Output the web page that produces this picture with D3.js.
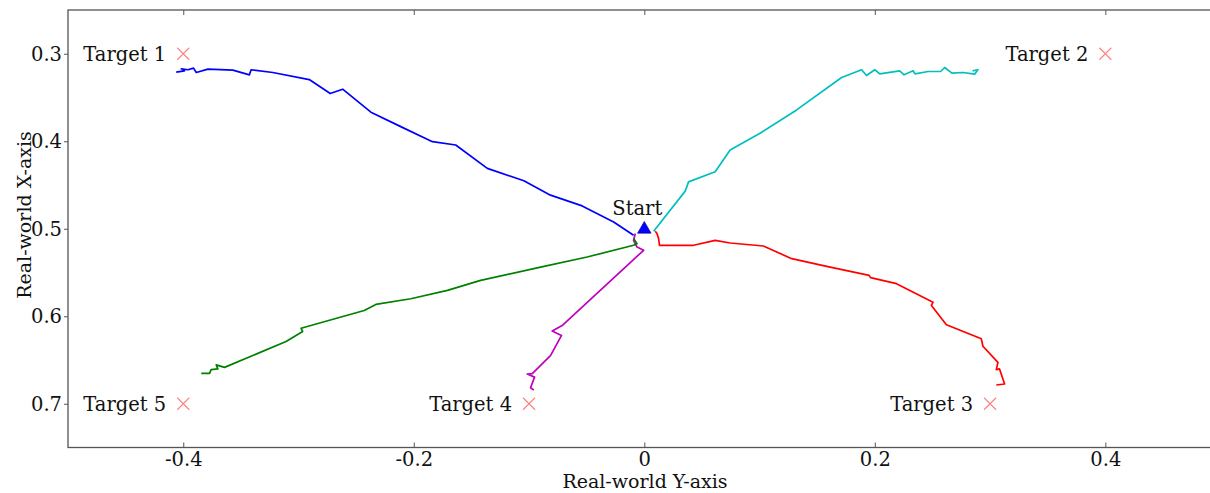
<!DOCTYPE html>
<html>
<head>
<meta charset="utf-8">
<script src="https://cdn.jsdelivr.net/npm/d3@7"></script>
<style>
  body { margin: 0; background: #fff; }
  text { font-family: "DejaVu Serif", serif; fill: #111; }
</style>
</head>
<body>
<div class="plot"></div>
<script>
/** trajectory data: [real-world Y, real-world X] */
const path1 = [[-0.0093,0.5074],[-0.0266,0.4922],[-0.0539,0.4739],[-0.0814,0.4616],[-0.1045,0.4452],
  [-0.1362,0.4310],[-0.1636,0.4043],[-0.1838,0.4005],[-0.2113,0.3833],[-0.2372,0.3668],[-0.2617,0.3405],
  [-0.2725,0.3455],[-0.2907,0.3295],[-0.3223,0.3214],[-0.3411,0.3183],[-0.3426,0.3241],[-0.3570,0.3187],
  [-0.3786,0.3175],[-0.3887,0.3214],[-0.3911,0.3164],[-0.3959,0.3183],[-0.4017,0.3172],[-0.3990,0.3195],[-0.4061,0.3210]];
const path2 = [[0.0081,0.5029],[0.0355,0.4570],[0.0384,0.4464],[0.0615,0.4349],[0.0745,0.4100],[0.1004,0.3909],
  [0.1322,0.3642],[0.1712,0.3272],[0.1885,0.3183],[0.1928,0.3249],[0.2000,0.3183],[0.2043,0.3229],[0.2216,0.3195],
  [0.2254,0.3241],[0.2332,0.3195],[0.2349,0.3229],[0.2462,0.3203],[0.2571,0.3203],[0.2606,0.3157],[0.2669,0.3221],
  [0.2765,0.3214],[0.2866,0.3233],[0.2894,0.3183],[0.2848,0.3195]];
const path3 = [[0.0095,0.5029],[0.0110,0.5055],[0.0124,0.5112],[0.0132,0.5189],[0.0427,0.5189],[0.0615,0.5132],
  [0.0745,0.5163],[0.1033,0.5197],[0.1279,0.5342],[0.1582,0.5430],[0.1951,0.5533],[0.1963,0.5559],[0.2188,0.5628],
  [0.2505,0.5839],[0.2491,0.5877],[0.2621,0.6098],[0.2924,0.6258],[0.2938,0.6343],[0.3068,0.6527],[0.3054,0.6610],
  [0.3082,0.6602],[0.3126,0.6774],[0.3054,0.6786]];
const path4 = [[-0.0078,0.5055],[-0.0093,0.5132],[-0.0063,0.5209],[-0.0006,0.5246],[-0.0713,0.6106],[-0.0799,0.6169],
  [-0.0719,0.6221],[-0.0814,0.6450],[-0.0972,0.6656],[-0.1016,0.6660],[-0.0952,0.6696],[-0.0987,0.6817],[-0.0958,0.6845]];
const path5 = [[-0.0093,0.5112],[-0.0063,0.5170],[-0.0093,0.5189],[-0.0496,0.5323],[-0.0900,0.5438],[-0.1420,0.5590],
  [-0.1708,0.5705],[-0.2026,0.5800],[-0.2329,0.5865],[-0.2430,0.5934],[-0.2978,0.6137],[-0.2964,0.6175],
  [-0.3108,0.6289],[-0.3642,0.6584],[-0.3714,0.6556],[-0.3700,0.6602],[-0.3758,0.6610],[-0.3772,0.6653],[-0.3844,0.6653]];

const pathColors = ['#0000ff', '#00bfbf', '#ff0000', '#bf00bf', '#008000'];

const targetNames = ['Target 1', 'Target 2', 'Target 3', 'Target 4', 'Target 5'];
const targetY = [-0.4, 0.4, 0.3, -0.1, -0.4];
const targetX = [0.3, 0.3, 0.7, 0.7, 0.7];
const startPoint = [0, 0.5];

const xTicks = [-0.4, -0.2, 0, 0.2, 0.4];
const xTickLabels = ['-0.4', '-0.2', '0', '0.2', '0.4'];
const yTicks = [0.3, 0.4, 0.5, 0.6, 0.7];
const yTickLabels = ['0.3', '0.4', '0.5', '0.6', '0.7'];

/** canvas */
let width = 1210, height = 493;
let svg = d3.select('.plot').append('svg')
    .attr('width', width)
    .attr('height', height);

let x = d3.scaleLinear().domain([-0.5, 0.5]).range([68, 1220.6]);
let y = d3.scaleLinear().domain([0.25, 0.75]).range([10, 447.5]);

svg.append('clipPath').attr('id', 'clip')
    .append('rect')
    .attr('x', x(-0.5)).attr('y', y(0.25))
    .attr('width', x(0.5) - x(-0.5)).attr('height', y(0.75) - y(0.25));

/** axes */
let xBottom = svg.append('g')
    .attr('transform', `translate(0,${y(0.75)})`)
    .call(d3.axisBottom(x).tickValues(xTicks).tickSizeInner(-5).tickSizeOuter(0)
        .tickFormat((d, i) => xTickLabels[i]));
xBottom.selectAll('text').attr('dy', null).attr('y', 18).style('font-size', '19.5px');

let xTop = svg.append('g')
    .attr('transform', `translate(0,${y(0.25)})`)
    .call(d3.axisTop(x).tickValues(xTicks).tickSizeInner(-5).tickSizeOuter(0).tickFormat(''));

let yLeft = svg.append('g')
    .attr('transform', `translate(${x(-0.5)},0)`)
    .call(d3.axisLeft(y).tickValues(yTicks).tickSizeInner(4).tickSizeOuter(0)
        .tickFormat((d, i) => yTickLabels[i]));
yLeft.selectAll('text').attr('x', -6).style('font-size', '19.5px');

svg.selectAll('.domain').remove();
svg.selectAll('.tick line').attr('stroke', '#555');
svg.selectAll('.tick text').attr('fill', '#111').style('font-family', '"DejaVu Serif", serif');

// frame
svg.append('rect')
    .attr('x', x(-0.5)).attr('y', y(0.25))
    .attr('width', x(0.5) - x(-0.5)).attr('height', y(0.75) - y(0.25))
    .attr('fill', 'none')
    .attr('stroke', '#555')
    .attr('stroke-width', 1.3);

/** trajectories */
let lineGen = d3.line().x(d => x(d[0])).y(d => y(d[1]));
let plotArea = svg.append('g').attr('clip-path', 'url(#clip)');

plotArea.selectAll('.traj')
    .data([path1, path2, path3, path4, path5])
    .enter()
    .append('path')
    .attr('class', 'traj')
    .attr('d', lineGen)
    .attr('fill', 'none')
    .attr('stroke', (d, i) => pathColors[i])
    .attr('stroke-width', 1.7)
    .attr('stroke-linejoin', 'round');

/** targets */
let targets = targetNames.map((n, i) => ({name: n, yw: targetY[i], xw: targetX[i]}));
let tg = plotArea.selectAll('.target')
    .data(targets)
    .enter()
    .append('g')
    .attr('class', 'target')
    .attr('transform', d => `translate(${x(d.yw)},${y(d.xw)})`);

tg.append('path')
    .attr('d', 'M-6,-6L6,6M-6,6L6,-6')
    .attr('stroke', '#ff8080')
    .attr('stroke-width', 1.1);

tg.append('text')
    .attr('x', -17)
    .attr('dy', '0.36em')
    .attr('text-anchor', 'end')
    .style('font-size', '19.5px')
    .text(d => d.name);

/** start */
plotArea.append('path')
    .attr('d', d3.symbol().type(d3.symbolTriangle).size(80))
    .attr('transform', `translate(${x(startPoint[0])},${y(startPoint[1]) + 0.5})`)
    .attr('fill', '#0000ff')
    .attr('stroke', '#000080')
    .attr('stroke-width', 0.6);

plotArea.append('text')
    .attr('x', x(startPoint[0]) - 7)
    .attr('y', y(startPoint[1]) - 14)
    .attr('text-anchor', 'middle')
    .style('font-size', '19.5px')
    .text('Start');

/** axis labels */
svg.append('text')
    .attr('x', 645)
    .attr('y', 488)
    .attr('text-anchor', 'middle')
    .style('font-size', '19px')
    .text('Real-world Y-axis');

svg.append('text')
    .attr('transform', 'translate(31,215) rotate(-90)')
    .attr('text-anchor', 'middle')
    .style('font-size', '19px')
    .text('Real-world X-axis');
</script>
</body>
</html>
